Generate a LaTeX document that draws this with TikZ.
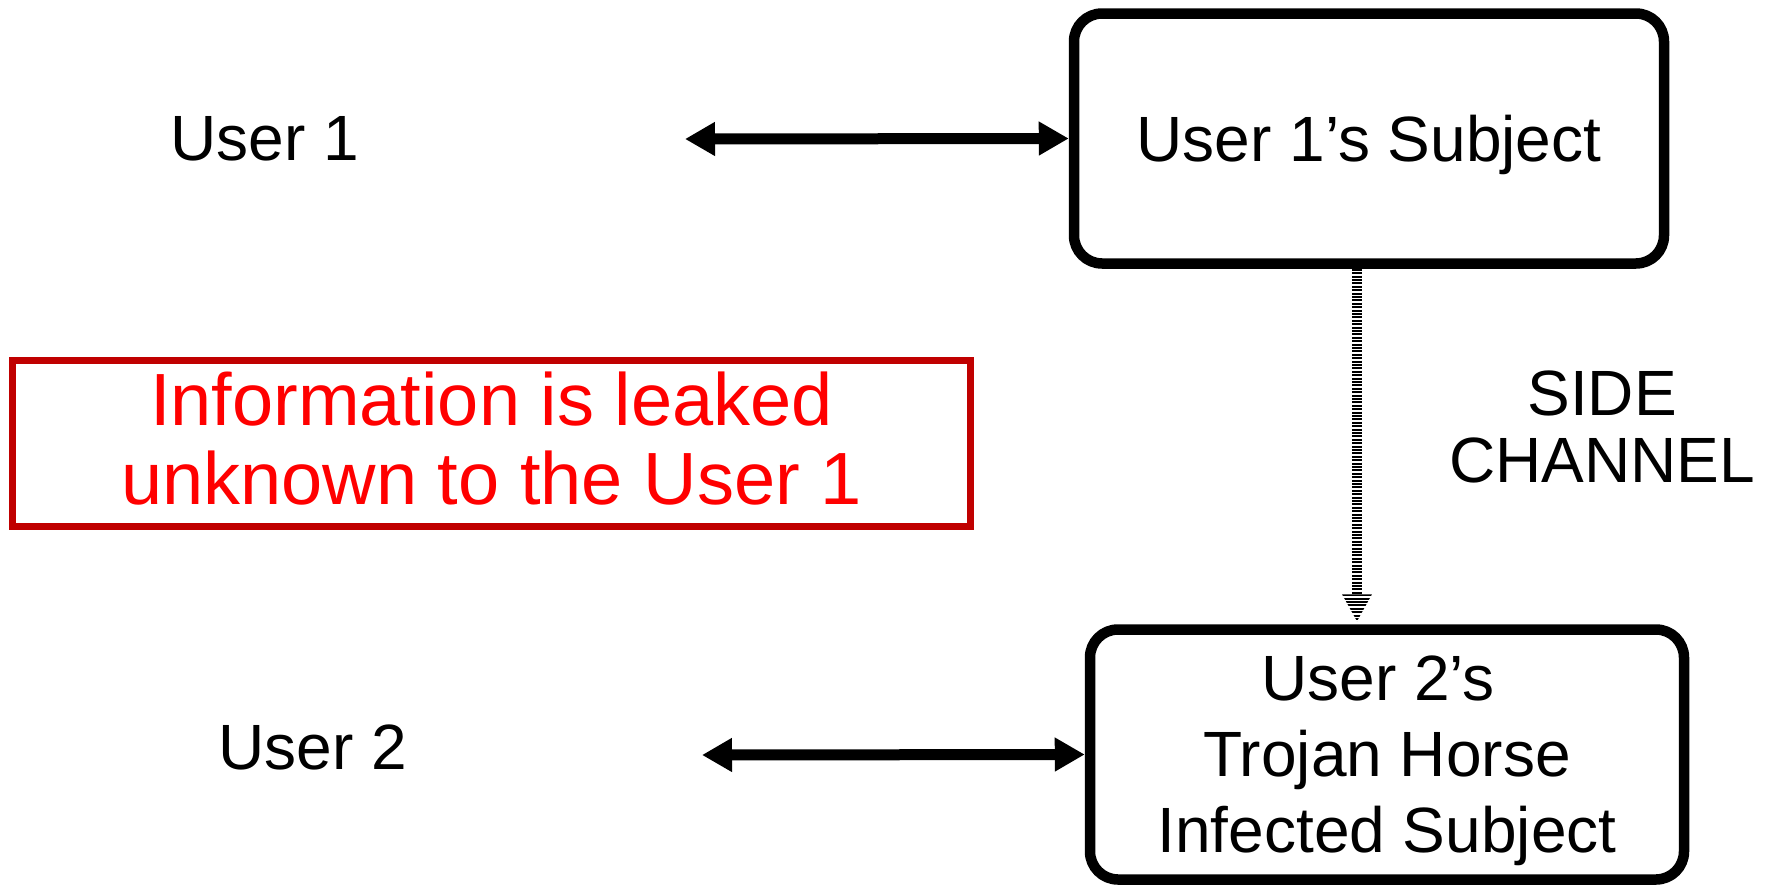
\documentclass[tikz,border=0pt]{standalone}
\usepackage{fontspec}
\setmainfont{Liberation Sans}
\usetikzlibrary{arrows.meta,calc}
\definecolor{boxred}{HTML}{C00000}
\definecolor{txtred}{HTML}{FF0000}
\begin{document}
\begin{tikzpicture}[x=1pt,y=-1pt,
  subjbox/.style={draw=black, line width=10.5pt, rounded corners=28pt, fill=white,
    align=center, inner sep=0pt, text depth=0pt,
    font=\fontsize{64}{76}\selectfont},
  userlbl/.style={inner sep=0pt, anchor=base, font=\fontsize{64}{76}\selectfont},
  leakbox/.style={draw=boxred, line width=7pt, text=txtred, align=center,
    inner sep=0pt, text depth=10pt, font=\fontsize{74}{79}\selectfont},
  chanlbl/.style={inner sep=0pt, anchor=south, align=center, text depth=0pt,
    font=\fontsize{64}{67}\selectfont},
  dblarrow/.style={line width=11pt, {Triangle[length=30pt,width=32pt]}-{Triangle[length=30pt,width=32pt]}},
  sideline/.style={line width=10pt, dash pattern=on 2pt off 1.4pt}
]
\useasboundingbox (0,0) rectangle (1765,886);

% subjects
\node[subjbox, minimum width=590pt, minimum height=250pt] (s1) at (1369,138.5) {User 1’s Subject};
\node[subjbox, minimum width=594pt, minimum height=250pt] (s2) at (1387,754.5)
  {User 2’s\hspace*{18pt}\\Trojan Horse\hspace*{38pt}\\Infected Subject};

% users
\node[userlbl] (u1) at (265,160) {User 1};
\node[userlbl] (u2) at (313,769) {User 2};

% leak note
\node[leakbox, minimum width=958pt, minimum height=166pt] (leak) at (491.5,443.5)
  {Information is leaked\\unknown to the User 1};

% side channel label
\node[chanlbl] (chan) at (1602,483) {SIDE\\CHANNEL};

% user arrows
\coordinate (a1) at (685,139);
\coordinate (a2) at (702,755);
\draw[dblarrow] (a1) -- (s1.west);
\draw[dblarrow] (a2) -- (s2.west);

% side channel arrow
\coordinate (sc) at (1357,0);
\coordinate (sctip) at ($(s2.north -| sc)+(0,-3)$);
\coordinate (schead) at ($(sctip)+(0,-27)$);
\draw[sideline] (s1.south -| sc) -- (schead);
\begin{scope}
  \clip ($(schead)+(-15,0)$) -- ($(schead)+(15,0)$) -- (sctip) -- cycle;
  \foreach \k in {0,...,8}
    \fill ($(schead)+(-16,\k*3.4)$) rectangle ++(32,2);
\end{scope}
\end{tikzpicture}
\end{document}
